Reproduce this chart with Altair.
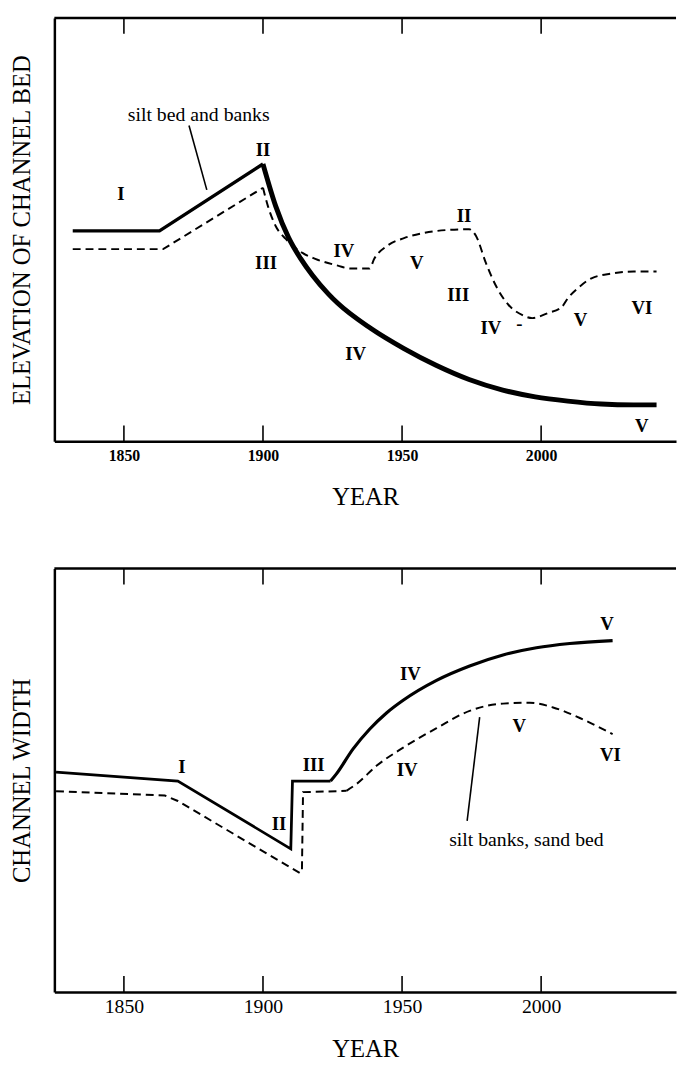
import altair as alt
import pandas as pd

FONT = "Liberation Serif"
W = 630
H = 429
X_DOMAIN = [1825, 2048.5]
TICK_YEARS = [1850, 1900, 1950, 2000]

# ---------------- Top panel: elevation of channel bed ----------------
top_solid_year = [1831.6, 1862.8, 1900.0, 1904.6, 1909.2, 1913.5, 1917.7, 1923.4, 1926.9,
                  1938.7, 1950.7, 1962.4, 1974.1, 1986.2, 1997.9, 2009.6, 2021.6, 2033.3, 2041.5]
top_solid_val = [49.7, 49.7, 65.5, 55.5, 48.1, 43.2, 39.3, 34.9, 32.6,
                 26.7, 21.9, 17.9, 14.6, 12.1, 10.5, 9.5, 8.8, 8.6, 8.6]

top_dash_year = [1831.6, 1864.1, 1900.0, 1901.8, 1904.6, 1908.2, 1914.2, 1918.8, 1926.9, 1931.5,
                 1938.3, 1940.0, 1944.7, 1950.7, 1957.8, 1965.9, 1974.1, 1976.6, 1980.1, 1983.7,
                 1988.3, 1993.3, 1996.8, 2002.5, 2007.4, 2009.6, 2013.1, 2018.1, 2025.2, 2033.3, 2041.5]
top_dash_val = [45.4, 45.4, 59.9, 55.5, 50.8, 47.8, 44.5, 43.1, 41.5, 40.8,
                40.8, 43.1, 46.2, 48.0, 49.2, 49.9, 50.1, 48.5, 42.2, 36.8,
                32.2, 29.8, 29.1, 30.3, 31.7, 33.8, 36.1, 38.5, 39.6, 40.1, 40.1]

top_num_text = ["I", "II", "III", "IV", "V", "II", "III", "IV", "-", "V", "VI", "IV", "V"]
top_num_year = [1848.9, 1900.0, 1901.1, 1929.1, 1955.3, 1972.3, 1970.2, 1981.9, 1992.2, 2014.2, 2036.2, 1933.3, 2036.2]
top_num_val = [58.3, 68.8, 42.2, 45.0, 42.2, 53.1, 34.5, 26.8, 27.7, 28.7, 31.5, 20.5, 3.5]

top_note_text = ["silt bed and banks"]
top_note_year = [1876.9]
top_note_val = [77.1]
top_pointer_year = [1873.4, 1879.8]
top_pointer_val = [74.6, 59.4]

# ---------------- Bottom panel: channel width ----------------
bot_solid_year = [1825.6, 1869.4, 1910.0, 1910.6, 1924.3, 1926.4, 1932.4, 1938.4, 1944.4,
                  1950.4, 1962.4, 1974.3, 1986.3, 1998.3, 2010.3, 2025.7]
bot_solid_val = [51.9, 49.8, 33.8, 49.8, 49.8, 51.5, 57.4, 62.1, 65.9,
                 68.9, 73.6, 77.0, 79.6, 81.3, 82.3, 83.0]

bot_dash_year = [1825.6, 1864.7, 1869.4, 1913.2, 1914.0, 1914.4, 1926.4, 1930.0, 1933.6,
                 1940.8, 1950.4, 1962.4, 1974.3, 1986.3, 1995.9, 2004.3, 2013.9, 2025.7]
bot_dash_val = [47.4, 46.4, 45.1, 28.1, 28.5, 47.2, 47.4, 47.5, 49.1,
                53.4, 57.7, 62.3, 66.4, 68.1, 68.3, 67.2, 64.7, 60.9]

bot_num_text = ["I", "II", "III", "IV", "V", "IV", "V", "VI"]
bot_num_year = [1870.8, 1905.8, 1918.2, 1953.0, 2023.7, 1951.8, 1992.1, 2024.9]
bot_num_val = [53.2, 39.6, 53.6, 75.1, 86.8, 52.3, 62.7, 56.0]

bot_note_text = ["silt banks, sand bed"]
bot_note_year = [1994.7]
bot_note_val = [35.9]
bot_pointer_year = [1977.9, 1973.4]
bot_pointer_val = [64.9, 40.4]


def xy(x_axis, y_axis):
    xs = alt.Scale(domain=X_DOMAIN, nice=False, zero=False)
    ys = alt.Scale(domain=[0, 100], nice=False, zero=False)
    X = alt.X("year:Q", scale=xs, axis=x_axis)
    Y = alt.Y("value:Q", scale=ys, axis=y_axis)
    return X, Y


def make_panel(solid_y, solid_v, solid_split, solid_w1, solid_w2,
               dash_y, dash_v, dash_split,
               num_t, num_y, num_v, note_t, note_y, note_v, ptr_y, ptr_v,
               y_title, label_size, label_weight, title_pad_x, x_label_pad):
    x_axis = alt.Axis(values=TICK_YEARS, format="d", ticks=False, grid=False,
                      domainColor="black", domainWidth=2.5,
                      labelFont=FONT, labelFontSize=label_size, labelFontWeight=label_weight,
                      labelColor="black", labelPadding=x_label_pad,
                      title="YEAR", titleFont=FONT, titleFontSize=25,
                      titleFontWeight="normal", titleColor="black", titlePadding=title_pad_x)
    y_axis = alt.Axis(labels=False, ticks=False, grid=False,
                      domainColor="black", domainWidth=2.5,
                      title=y_title, titleFont=FONT, titleFontSize=25,
                      titleFontWeight="normal", titleColor="black", titlePadding=20)
    X, Y = xy(x_axis, y_axis)

    solid = pd.DataFrame({"year": solid_y, "value": solid_v})
    dash = pd.DataFrame({"year": dash_y, "value": dash_v})

    s1 = alt.Chart(solid).mark_line(color="black", strokeWidth=solid_w1, interpolate="linear",
                                    strokeCap="butt", strokeJoin="miter").encode(
        x=X, y=Y, order="year:Q").transform_filter(alt.datum.year <= solid_split)
    s2 = alt.Chart(solid).mark_line(color="black", strokeWidth=solid_w2, interpolate="monotone",
                                    strokeCap="butt").encode(
        x=X, y=Y, order="year:Q").transform_filter(alt.datum.year >= solid_split)
    d1 = alt.Chart(dash).mark_line(color="black", strokeWidth=2, strokeDash=[8, 5],
                                   interpolate="linear").encode(
        x=X, y=Y, order="year:Q").transform_filter(alt.datum.year <= dash_split)
    d2 = alt.Chart(dash).mark_line(color="black", strokeWidth=2, strokeDash=[8, 5],
                                   interpolate="monotone").encode(
        x=X, y=Y, order="year:Q").transform_filter(alt.datum.year >= dash_split)

    ptr = alt.Chart(pd.DataFrame({"year": ptr_y, "value": ptr_v})).mark_line(
        color="black", strokeWidth=1.6).encode(x=X, y=Y)

    nums = alt.Chart(pd.DataFrame({"year": num_y, "value": num_v, "t": num_t})).mark_text(
        font=FONT, fontSize=19, fontWeight="bold", color="black",
        align="center", baseline="middle").encode(x=X, y=Y, text="t:N")
    note = alt.Chart(pd.DataFrame({"year": note_y, "value": note_v, "t": note_t})).mark_text(
        font=FONT, fontSize=20, color="black", align="center", baseline="middle").encode(
        x=X, y=Y, text="t:N")

    ticks_df = pd.DataFrame({"year": TICK_YEARS})
    tick_top = alt.Chart(ticks_df).mark_rule(color="black", strokeWidth=1.6).encode(
        x=X, y=alt.value(0), y2=alt.value(16))
    tick_bot = alt.Chart(ticks_df).mark_rule(color="black", strokeWidth=1.6).encode(
        x=X, y=alt.value(H - 16), y2=alt.value(H))
    border = alt.Chart(pd.DataFrame({"a": [0]})).mark_rule(color="black", strokeWidth=2.5).encode(
        x=alt.value(0), x2=alt.value(W), y=alt.value(0))

    return alt.layer(d1, d2, s1, s2, ptr, nums, note, tick_top, tick_bot, border).properties(
        width=W, height=H)


top = make_panel(top_solid_year, top_solid_val, 1900.0, 3.4, 5,
                 top_dash_year, top_dash_val, 1900.0,
                 top_num_text, top_num_year, top_num_val,
                 top_note_text, top_note_year, top_note_val,
                 top_pointer_year, top_pointer_val,
                 "ELEVATION OF CHANNEL BED", 16, "bold", 22, 6)

bottom = make_panel(bot_solid_year, bot_solid_val, 1924.3, 2.8, 3.2,
                    bot_dash_year, bot_dash_val, 1930.0,
                    bot_num_text, bot_num_year, bot_num_val,
                    bot_note_text, bot_note_year, bot_note_val,
                    bot_pointer_year, bot_pointer_val,
                    "CHANNEL WIDTH", 20, "normal", 20, 5)

chart = alt.vconcat(top, bottom, spacing=58).properties(
    padding={"left": 2, "top": 1, "right": 0, "bottom": 0},
    background="white",
).configure_view(stroke=None)

chart.save("out.html", embed_options={"renderer": "svg", "actions": False})
